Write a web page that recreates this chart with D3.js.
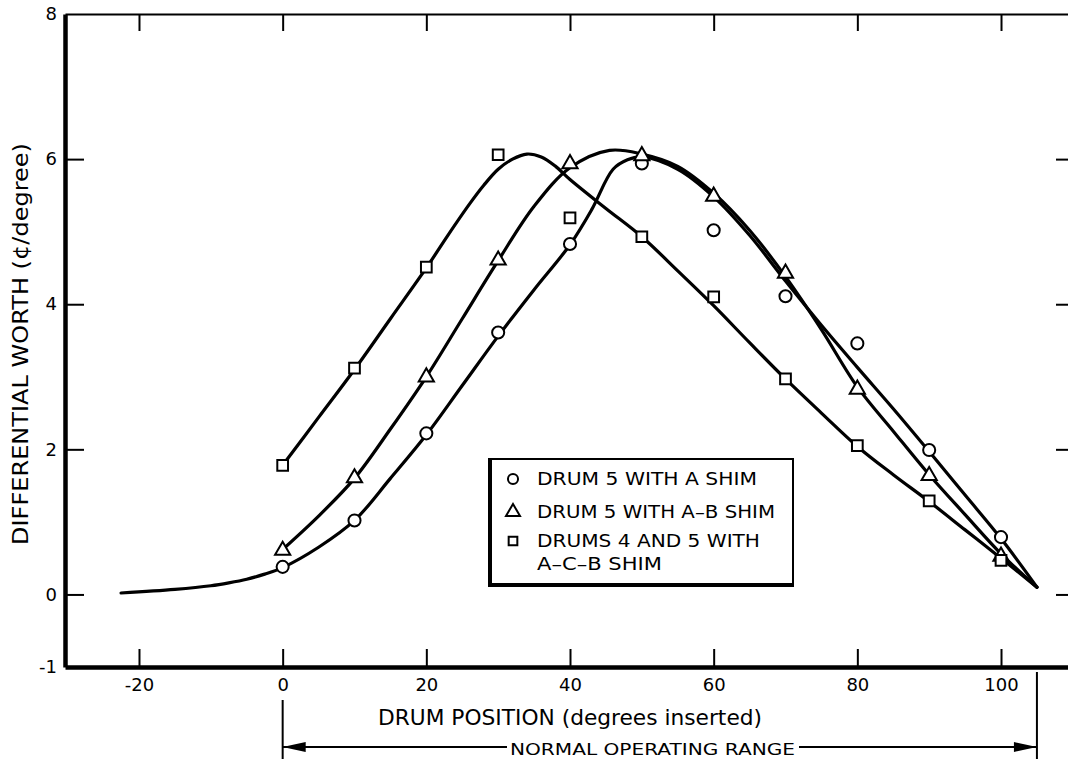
<!DOCTYPE html>
<html>
<head>
<meta charset="utf-8">
<script src="https://cdn.jsdelivr.net/npm/d3@7"></script>
<style>
  body { margin: 0; background: #fff; }
  svg { display: block; }
  text { font-family: "DejaVu Sans", "Liberation Sans", Arial, sans-serif; fill: #000; }
</style>
</head>
<body>
<svg id="chart"></svg>
<script>
// measured points, one value per 10 degrees of drum insertion
var degrees = [0, 10, 20, 30, 40, 50, 60, 70, 80, 90, 100];
var drum5A   = [0.38, 1.02, 2.22, 3.61, 4.83, 5.94, 5.02, 4.11, 3.46, 1.99, 0.79];
var drum5AB  = [0.62, 1.62, 3.01, 4.62, 5.95, 6.06, 5.50, 4.44, 2.84, 1.65, 0.54];
var drum45ACB = [1.78, 3.12, 4.51, 6.06, 5.19, 4.93, 4.10, 2.97, 2.05, 1.29, 0.47];

// hand-faired curves
var fitA = [[-22.5, 0.02], [-15, 0.07], [-10, 0.12], [-7.5, 0.16], [-5, 0.21], [-2.5, 0.28], [0, 0.37],
  [5, 0.65], [10, 1.02], [15, 1.6], [20, 2.2], [25, 2.88], [30, 3.56], [35, 4.2], [40, 4.82],
  [43, 5.3], [46, 5.86], [48, 5.99], [50, 6.03], [55, 5.86], [60, 5.48], [65, 4.95], [70, 4.32],
  [75, 3.71], [80, 3.13], [85, 2.56], [90, 1.97], [95, 1.37], [100, 0.77], [105, 0.1]];
var fitAB = [[0, 0.62], [5, 1.08], [10, 1.6], [15, 2.28], [20, 3.0], [25, 3.8], [30, 4.6],
  [35, 5.35], [40, 5.88], [45.5, 6.12], [50, 6.07], [55, 5.9], [60, 5.53], [65, 5.02],
  [70, 4.38], [75, 3.65], [80, 2.86], [85, 2.25], [90, 1.65], [95, 1.1], [100, 0.56], [105, 0.1]];
var fitACB = [[0, 1.78], [5, 2.44], [10, 3.1], [15, 3.8], [20, 4.5], [23, 4.95], [26, 5.38],
  [28, 5.64], [30, 5.86], [32, 6.0], [34, 6.07], [36, 6.03], [38, 5.9], [40, 5.72],
  [45, 5.32], [50, 4.93], [55, 4.46], [60, 3.98], [65, 3.47], [70, 2.97], [75, 2.5],
  [80, 2.04], [85, 1.65], [90, 1.28], [95, 0.89], [100, 0.5], [105, 0.1]];

var xTicks = [-20, 0, 20, 40, 60, 80, 100];
var yTicks = [-1, 0, 2, 4, 6, 8];
var operatingRange = [0, 105];

var legendLabels = ["DRUM 5 WITH A SHIM", "DRUM 5 WITH A\u2013B SHIM", "DRUMS 4 AND 5 WITH", "A\u2013C\u2013B SHIM"];

var width = 1068, height = 759;
var plotL = 65, plotR = 1075, plotT = 14, plotB = 667;

var svg = d3.select("#chart").attr("width", width).attr("height", height);
svg.append("rect").attr("width", width).attr("height", height).attr("fill", "#fff");

var x = d3.scaleLinear().domain([-30.3, 110.3]).range([plotL, plotR]);
var y = d3.scaleLinear().domain([-1, 8]).range([plotB, plotT]);

function fmt(d) { return d < 0 ? "-" + (-d) : String(d); }

// frame + ticks
var gTop = svg.append("g").attr("transform", "translate(0," + plotT + ")")
  .call(d3.axisTop(x).tickValues(xTicks).tickSizeInner(-17).tickSizeOuter(0).tickFormat(""));
var gRight = svg.append("g").attr("transform", "translate(" + plotR + ",0)")
  .call(d3.axisRight(y).tickValues(yTicks).tickSizeInner(-19).tickSizeOuter(0).tickFormat(""));
var gBottom = svg.append("g").attr("transform", "translate(0," + plotB + ")")
  .call(d3.axisBottom(x).tickValues(xTicks).tickSizeInner(-18).tickSizeOuter(0).tickPadding(11).tickFormat(fmt));
var gLeft = svg.append("g").attr("transform", "translate(" + plotL + ",0)")
  .call(d3.axisLeft(y).tickValues(yTicks).tickSizeInner(-19).tickSizeOuter(0).tickPadding(8).tickFormat(fmt));

[gTop, gRight, gBottom, gLeft].forEach(function(g) {
  g.attr("font-family", null);
  g.selectAll("line").attr("stroke", "#000").attr("stroke-width", 2);
  g.selectAll("text").style("font-size", "18px").attr("fill", "#000");
  g.select(".domain").attr("stroke", "#000");
});
gTop.select(".domain").attr("stroke-width", 2);
gRight.select(".domain").attr("stroke-width", 2);
gBottom.select(".domain").attr("stroke-width", 4.5);
gLeft.select(".domain").attr("stroke-width", 4.5);
gLeft.selectAll(".tick line").filter(function(d) { return d === 8 || d === -1; }).remove();
gRight.selectAll(".tick line").filter(function(d) { return d === 8 || d === -1; }).remove();

// axis titles
svg.append("text")
  .attr("transform", "translate(28,344) rotate(-90)")
  .attr("text-anchor", "middle")
  .attr("textLength", 402).attr("lengthAdjust", "spacingAndGlyphs")
  .style("font-size", "21px")
  .text("DIFFERENTIAL WORTH (\u00a2/degree)");

svg.append("text")
  .attr("x", 570).attr("y", 725)
  .attr("text-anchor", "middle")
  .attr("textLength", 384).attr("lengthAdjust", "spacingAndGlyphs")
  .style("font-size", "21px")
  .text("DRUM POSITION (degrees inserted)");

// fitted curves
var line = d3.line()
  .x(function(d) { return x(d[0]); })
  .y(function(d) { return y(d[1]); })
  .curve(d3.curveCatmullRom.alpha(0.5));

svg.append("g").selectAll("path")
  .data([fitA, fitAB, fitACB])
  .join("path")
  .attr("d", line)
  .attr("fill", "none")
  .attr("stroke", "#000")
  .attr("stroke-width", 3.2)
  .attr("stroke-linejoin", "round")
  .attr("stroke-linecap", "round");

// markers
var symCircle = d3.symbol().type(d3.symbolCircle).size(115);
var symTri = d3.symbol().type(d3.symbolTriangle).size(100);
var symSquare = d3.symbol().type(d3.symbolSquare).size(115);

var series = [
  { vals: drum5A, sym: symCircle, dy: 0 },
  { vals: drum5AB, sym: symTri, dy: 1 },
  { vals: drum45ACB, sym: symSquare, dy: 0 }
];

series.forEach(function(s) {
  svg.append("g").selectAll("path")
    .data(degrees)
    .join("path")
    .attr("transform", function(d, i) { return "translate(" + x(d) + "," + (y(s.vals[i]) + s.dy) + ")"; })
    .attr("d", s.sym())
    .attr("fill", "#fff")
    .attr("stroke", "#000")
    .attr("stroke-width", 2);
});

// legend
var lg = svg.append("g");
lg.append("rect").attr("x", 489).attr("y", 459).attr("width", 304).attr("height", 126)
  .attr("fill", "#fff").attr("stroke", "#000").attr("stroke-width", 2);
lg.append("line").attr("x1", 490).attr("x2", 490).attr("y1", 458).attr("y2", 587)
  .attr("stroke", "#000").attr("stroke-width", 4);
lg.append("line").attr("x1", 488).attr("x2", 794).attr("y1", 585).attr("y2", 585)
  .attr("stroke", "#000").attr("stroke-width", 4);

var legSyms = [
  d3.symbol().type(d3.symbolCircle).size(80),
  d3.symbol().type(d3.symbolTriangle).size(85),
  d3.symbol().type(d3.symbolSquare).size(75)
];
var legSymY = [479, 512, 541];
legSyms.forEach(function(s, i) {
  lg.append("path").attr("transform", "translate(513," + legSymY[i] + ")")
    .attr("d", s()).attr("fill", "#fff").attr("stroke", "#000").attr("stroke-width", 2);
});
var legBase = [485, 518, 547, 570];
var legLen = [220, 238, 223, 125];
legendLabels.forEach(function(t, i) {
  lg.append("text").attr("x", 537).attr("y", legBase[i])
    .attr("textLength", legLen[i]).attr("lengthAdjust", "spacingAndGlyphs")
    .style("font-size", "17px").text(t);
});

// normal operating range annotation
var rx0 = x(operatingRange[0]), rx1 = x(operatingRange[1]);
var ay = 747;
var ann = svg.append("g").attr("stroke", "#000").attr("stroke-width", 2);
ann.append("line").attr("x1", rx0).attr("x2", rx0).attr("y1", 700).attr("y2", height);
ann.append("line").attr("x1", rx1).attr("x2", rx1).attr("y1", 672).attr("y2", height);
ann.append("line").attr("x1", rx0).attr("x2", 507).attr("y1", ay).attr("y2", ay);
ann.append("line").attr("x1", 799).attr("x2", rx1).attr("y1", ay).attr("y2", ay);
ann.append("path").attr("stroke", "none").attr("fill", "#000")
  .attr("d", "M" + rx0 + "," + ay + "L" + (rx0 + 23) + "," + (ay - 5) + "L" + (rx0 + 23) + "," + (ay + 5) + "Z");
ann.append("path").attr("stroke", "none").attr("fill", "#000")
  .attr("d", "M" + rx1 + "," + ay + "L" + (rx1 - 23) + "," + (ay - 5) + "L" + (rx1 - 23) + "," + (ay + 5) + "Z");
svg.append("text").attr("x", 510).attr("y", 755)
  .attr("textLength", 285).attr("lengthAdjust", "spacingAndGlyphs")
  .style("font-size", "16px")
  .text("NORMAL OPERATING RANGE");
</script>
</body>
</html>
